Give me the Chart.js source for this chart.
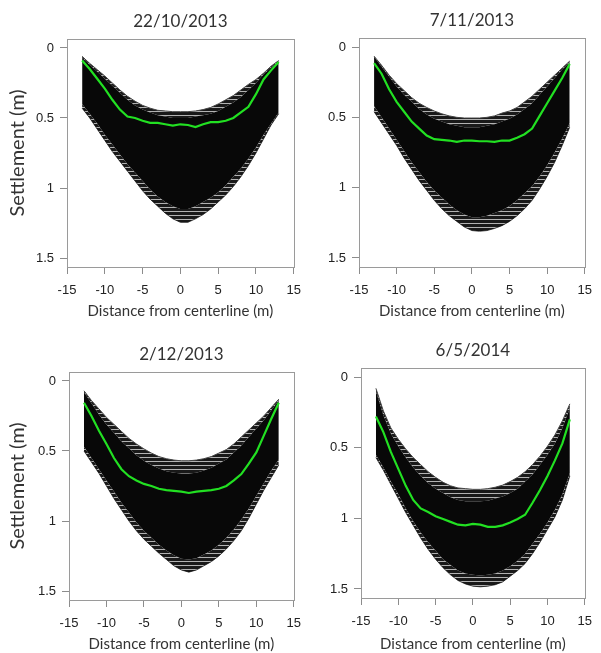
<!DOCTYPE html>
<html lang="en">
<head>
  <meta charset="UTF-8" />
  <title>Settlement profiles</title>
  <script src="https://cdn.jsdelivr.net/npm/chart.js"></script>
  <style>
    body {
      margin: 0;
      background: #ffffff;
    }
    #wrap {
      position: relative;
      width: 601px;
      height: 653px;
      overflow: hidden;
    }
    canvas {
      position: absolute;
    }
  </style>
</head>
<body>
  <div id="wrap">
    <canvas id="p1" width="310" height="320" style="left:0;top:0"></canvas>
    <canvas id="p2" width="301" height="320" style="left:300px;top:0"></canvas>
    <canvas id="p3" width="310" height="323" style="left:0;top:330px"></canvas>
    <canvas id="p4" width="301" height="323" style="left:300px;top:330px"></canvas>
  </div>

  <script>
    // distance from centerline (m) of every profile point
    const distances = [-13, -12, -11, -10, -9, -8, -7, -6, -5, -4, -3, -2, -1, 0, 1, 2, 3, 4, 5, 6, 7, 8, 9, 10, 11, 12, 13];
    const xTicks = [-15, -10, -5, 0, 5, 10, 15];
    const yTicks = [0, 0.5, 1, 1.5];
    const panelTitles = ['22/10/2013', '7/11/2013', '2/12/2013', '6/5/2014'];

    // 22/10/2013 : outer curves, edges of the dense band, green profile
    const p1Upper      = [0.06, 0.11, 0.155, 0.20, 0.25, 0.30, 0.345, 0.38, 0.41, 0.43, 0.445, 0.45, 0.455, 0.455, 0.455, 0.45, 0.44, 0.425, 0.40, 0.37, 0.34, 0.30, 0.26, 0.225, 0.18, 0.13, 0.09];
    const p1UpperInner = [0.07, 0.12, 0.17, 0.22, 0.27, 0.32, 0.37, 0.41, 0.44, 0.46, 0.48, 0.49, 0.50, 0.50, 0.50, 0.49, 0.48, 0.47, 0.45, 0.42, 0.39, 0.35, 0.30, 0.25, 0.19, 0.14, 0.10];
    const p1LowerInner = [0.40, 0.47, 0.54, 0.62, 0.69, 0.76, 0.83, 0.89, 0.95, 1.01, 1.06, 1.10, 1.13, 1.15, 1.15, 1.13, 1.10, 1.07, 1.03, 0.98, 0.92, 0.86, 0.79, 0.71, 0.62, 0.54, 0.46];
    const p1Lower      = [0.43, 0.50, 0.58, 0.66, 0.74, 0.81, 0.88, 0.95, 1.02, 1.08, 1.13, 1.18, 1.22, 1.245, 1.245, 1.22, 1.19, 1.15, 1.10, 1.05, 0.99, 0.92, 0.84, 0.75, 0.65, 0.55, 0.47];
    const p1Green      = [0.09, 0.15, 0.22, 0.29, 0.37, 0.44, 0.49, 0.50, 0.52, 0.535, 0.535, 0.545, 0.555, 0.545, 0.55, 0.565, 0.545, 0.53, 0.53, 0.52, 0.50, 0.46, 0.42, 0.33, 0.225, 0.16, 0.10];

    // 7/11/2013
    const p2Upper      = [0.065, 0.13, 0.20, 0.26, 0.31, 0.36, 0.40, 0.43, 0.455, 0.475, 0.49, 0.50, 0.505, 0.505, 0.505, 0.50, 0.49, 0.47, 0.455, 0.43, 0.39, 0.35, 0.30, 0.25, 0.20, 0.15, 0.10];
    const p2UpperInner = [0.07, 0.14, 0.21, 0.28, 0.34, 0.39, 0.44, 0.48, 0.51, 0.53, 0.55, 0.56, 0.57, 0.57, 0.57, 0.56, 0.55, 0.53, 0.51, 0.48, 0.44, 0.40, 0.34, 0.28, 0.22, 0.16, 0.11];
    const p2LowerInner = [0.42, 0.50, 0.58, 0.66, 0.74, 0.82, 0.89, 0.96, 1.02, 1.07, 1.12, 1.16, 1.19, 1.21, 1.21, 1.20, 1.18, 1.16, 1.13, 1.09, 1.04, 0.99, 0.92, 0.84, 0.75, 0.65, 0.54];
    const p2Lower      = [0.46, 0.54, 0.62, 0.70, 0.79, 0.87, 0.95, 1.02, 1.09, 1.15, 1.20, 1.24, 1.28, 1.305, 1.31, 1.305, 1.29, 1.27, 1.24, 1.20, 1.15, 1.09, 1.01, 0.92, 0.82, 0.70, 0.57];
    const p2Green      = [0.115, 0.19, 0.30, 0.39, 0.46, 0.53, 0.58, 0.63, 0.655, 0.66, 0.665, 0.675, 0.665, 0.665, 0.67, 0.67, 0.675, 0.665, 0.665, 0.645, 0.62, 0.58, 0.49, 0.40, 0.31, 0.22, 0.12];

    // 2/12/2013
    const p3Upper      = [0.07, 0.14, 0.20, 0.26, 0.31, 0.36, 0.41, 0.45, 0.485, 0.515, 0.54, 0.555, 0.565, 0.57, 0.57, 0.565, 0.555, 0.54, 0.515, 0.49, 0.45, 0.40, 0.35, 0.30, 0.25, 0.19, 0.13];
    const p3UpperInner = [0.08, 0.16, 0.24, 0.31, 0.37, 0.43, 0.48, 0.53, 0.57, 0.60, 0.625, 0.645, 0.655, 0.66, 0.66, 0.655, 0.64, 0.62, 0.59, 0.56, 0.51, 0.46, 0.40, 0.34, 0.28, 0.21, 0.14];
    const p3LowerInner = [0.47, 0.55, 0.63, 0.71, 0.79, 0.87, 0.94, 1.01, 1.07, 1.12, 1.17, 1.21, 1.245, 1.27, 1.275, 1.265, 1.24, 1.21, 1.17, 1.12, 1.06, 0.99, 0.91, 0.82, 0.73, 0.64, 0.56];
    const p3Lower      = [0.50, 0.58, 0.66, 0.75, 0.84, 0.92, 1.00, 1.07, 1.13, 1.18, 1.23, 1.275, 1.32, 1.35, 1.365, 1.35, 1.32, 1.29, 1.25, 1.20, 1.14, 1.07, 0.98, 0.88, 0.78, 0.69, 0.60];
    const p3Green      = [0.155, 0.25, 0.355, 0.45, 0.55, 0.63, 0.68, 0.71, 0.735, 0.75, 0.77, 0.78, 0.785, 0.79, 0.80, 0.79, 0.785, 0.78, 0.77, 0.75, 0.71, 0.665, 0.59, 0.51, 0.39, 0.27, 0.155];

    // 6/5/2014
    const p4Upper      = [0.08, 0.24, 0.36, 0.44, 0.51, 0.57, 0.62, 0.67, 0.71, 0.745, 0.77, 0.785, 0.79, 0.795, 0.795, 0.79, 0.78, 0.765, 0.74, 0.71, 0.67, 0.62, 0.56, 0.49, 0.41, 0.31, 0.19];
    const p4UpperInner = [0.10, 0.27, 0.40, 0.49, 0.57, 0.64, 0.70, 0.75, 0.79, 0.82, 0.85, 0.87, 0.88, 0.88, 0.88, 0.875, 0.86, 0.845, 0.82, 0.79, 0.74, 0.69, 0.62, 0.55, 0.47, 0.36, 0.22];
    const p4LowerInner = [0.55, 0.64, 0.74, 0.83, 0.93, 1.02, 1.10, 1.17, 1.23, 1.29, 1.33, 1.37, 1.39, 1.40, 1.405, 1.40, 1.39, 1.37, 1.34, 1.30, 1.25, 1.18, 1.11, 1.03, 0.94, 0.83, 0.68];
    const p4Lower      = [0.57, 0.66, 0.76, 0.86, 0.96, 1.05, 1.14, 1.22, 1.29, 1.35, 1.40, 1.44, 1.465, 1.48, 1.485, 1.48, 1.47, 1.45, 1.41, 1.37, 1.32, 1.25, 1.17, 1.08, 0.99, 0.87, 0.70];
    const p4Green      = [0.28, 0.39, 0.53, 0.65, 0.77, 0.87, 0.93, 0.955, 0.985, 1.005, 1.025, 1.045, 1.05, 1.04, 1.045, 1.06, 1.06, 1.05, 1.03, 1.005, 0.975, 0.89, 0.80, 0.70, 0.59, 0.47, 0.30];

    Chart.defaults.animation = false;
    Chart.defaults.devicePixelRatio = 1;

    // thin curves with narrow light gaps at the edges of the ensemble
    function stripes() {
      const c = document.createElement('canvas');
      c.width = 4; c.height = 4;
      const g = c.getContext('2d');
      g.fillStyle = 'rgba(0,0,0,0.9)';
      g.fillRect(0, 0, 4, 3);
      g.fillStyle = 'rgba(0,0,0,0.3)';
      g.fillRect(0, 3, 4, 1);
      return g.createPattern(c, 'repeat');
    }

    const framePlugin = {
      id: 'frame',
      afterDraw(chart, args, opts) {
        const { ctx, chartArea: a } = chart;
        ctx.save();
        ctx.strokeStyle = '#9a9a9a';
        ctx.lineWidth = 1;
        ctx.strokeRect(Math.round(a.left) + 0.5, Math.round(a.top) + 0.5,
          Math.round(a.right - a.left), Math.round(a.bottom - a.top));
        ctx.fillStyle = '#333';
        ctx.font = '17px Lato';
        ctx.textAlign = 'center';
        ctx.textBaseline = 'middle';
        ctx.fillText(opts.text, (a.left + a.right) / 2, a.top - 17);
        ctx.restore();
      }
    };

    const pts = arr => distances.map((x, i) => ({ x: x, y: arr[i] }));
    const tickFont = { family: "'Liberation Sans', Arial, sans-serif", size: 13 };

    function panel(id, title, s, box) {
      const stripe = stripes();
      new Chart(document.getElementById(id), {
        type: 'line',
        data: {
          datasets: [
            { data: pts(s.green), borderColor: '#22e022', borderWidth: 2.2, pointRadius: 0, fill: false },
            { data: pts(s.upper), borderColor: '#444', borderWidth: 1, pointRadius: 0, fill: '+1', backgroundColor: stripe },
            { data: pts(s.upperInner), borderWidth: 0, pointRadius: 0, fill: '+1', backgroundColor: '#080808' },
            { data: pts(s.lowerInner), borderWidth: 0, pointRadius: 0, fill: '+1', backgroundColor: stripe },
            { data: pts(s.lower), borderColor: '#555', borderWidth: 1, pointRadius: 0, fill: false }
          ]
        },
        options: {
          responsive: false,
          layout: { padding: { top: box.top, right: box.right, left: 0, bottom: 0 } },
          plugins: {
            legend: { display: false },
            tooltip: { enabled: false },
            frame: { text: title }
          },
          scales: {
            x: {
              type: 'linear', min: -15, max: 15,
              afterBuildTicks: sc => { sc.ticks = xTicks.map(v => ({ value: v })); },
              afterFit: sc => { sc.height = box.xh; },
              grid: { drawOnChartArea: false, tickLength: 7, color: '#8c8c8c' },
              border: { display: false },
              ticks: { font: tickFont, color: '#222', padding: 9, maxRotation: 0, callback: v => String(v) },
              title: { display: true, text: 'Distance from centerline (m)', color: '#333',
                font: { family: 'Lato', size: 15 }, padding: { top: 0, bottom: 0 } }
            },
            y: {
              type: 'linear', reverse: true, min: -0.064, max: 1.564,
              afterBuildTicks: sc => { sc.ticks = yTicks.map(v => ({ value: v })); },
              afterFit: sc => { sc.width = box.yw; },
              grid: { drawOnChartArea: false, tickLength: 7, color: '#8c8c8c' },
              border: { display: false },
              ticks: { font: tickFont, color: '#222', padding: 6, callback: v => String(v) },
              title: { display: box.ytitle, text: 'Settlement (m)', color: '#333',
                font: { family: 'Lato', size: 20 }, padding: { top: 6, bottom: 0 } }
            }
          }
        },
        plugins: [framePlugin]
      });
    }

    panel('p1', panelTitles[0],
      { upper: p1Upper, upperInner: p1UpperInner, lowerInner: p1LowerInner, lower: p1Lower, green: p1Green },
      { top: 39, right: 12, yw: 67, xh: 53, ytitle: true });
    panel('p2', panelTitles[1],
      { upper: p2Upper, upperInner: p2UpperInner, lowerInner: p2LowerInner, lower: p2Lower, green: p2Green },
      { top: 38, right: 10, yw: 59, xh: 53, ytitle: false });
    panel('p3', panelTitles[2],
      { upper: p3Upper, upperInner: p3UpperInner, lowerInner: p3LowerInner, lower: p3Lower, green: p3Green },
      { top: 42, right: 12, yw: 69, xh: 53, ytitle: true });
    panel('p4', panelTitles[3],
      { upper: p4Upper, upperInner: p4UpperInner, lowerInner: p4LowerInner, lower: p4Lower, green: p4Green },
      { top: 38, right: 8, yw: 61, xh: 55, ytitle: false });
  </script>
</body>
</html>
